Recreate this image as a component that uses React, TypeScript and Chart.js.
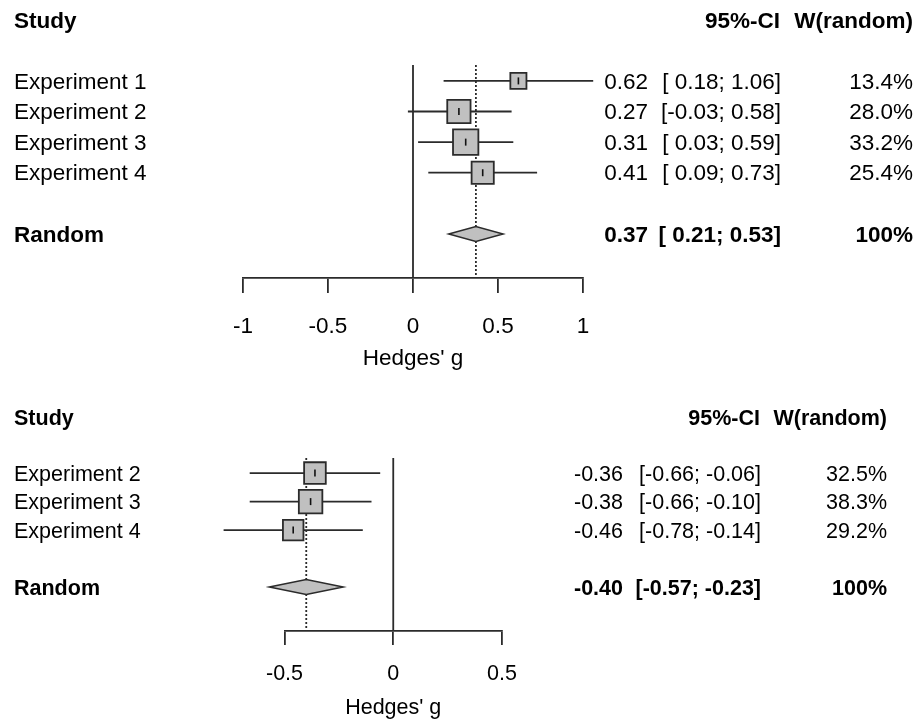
import React, { useEffect, useRef } from "react";
import { Chart, registerables } from "chart.js";

Chart.register(...registerables);

const FONT = '"Liberation Sans", Arial, Helvetica, sans-serif';

// ---------- Panel 1 data ----------
const studiesA = ["Experiment 1", "Experiment 2", "Experiment 3", "Experiment 4"];
const estA = [0.62, 0.27, 0.31, 0.41];
const lowA = [0.18, -0.03, 0.03, 0.09];
const highA = [1.06, 0.58, 0.59, 0.73];
const weightA = [13.4, 28.0, 33.2, 25.4];
const pooledA = [0.37, 0.21, 0.53]; // estimate, lower, upper
const ticksA = [-1, -0.5, 0, 0.5, 1];

// ---------- Panel 2 data ----------
const studiesB = ["Experiment 2", "Experiment 3", "Experiment 4"];
const estB = [-0.36, -0.38, -0.46];
const lowB = [-0.66, -0.66, -0.78];
const highB = [-0.06, -0.1, -0.14];
const weightB = [32.5, 38.3, 29.2];
const pooledB = [-0.4, -0.57, -0.23];
const ticksB = [-0.5, 0, 0.5];

const headers = ["Study", "95%-CI", "W(random)"];
const pooledLabel = "Random";
const axisTitle = "Hedges' g";

type Panel = {
  id: string;
  studies: string[];
  est: number[];
  low: number[];
  high: number[];
  weight: number[];
  pooled: number[];
  ticks: number[];
  // style / layout
  width: number;
  height: number;
  xMin: number;
  xMax: number;
  yMin: number;
  yMax: number;
  padding: { left: number; right: number; top: number; bottom: number };
  axisHeight: number;
  tickLength: number;
  tickPadding: number;
  fontSize: number;
  boxK: number;
  labelX: number;
  estRight: number;
  ciRight: number;
  wRight: number;
  headCiRight: number;
  textDy: number;
  headDy: number;
};

const panelA: Panel = {
  id: "a",
  studies: studiesA,
  est: estA,
  low: lowA,
  high: highA,
  weight: weightA,
  pooled: pooledA,
  ticks: ticksA,
  width: 919,
  height: 385,
  xMin: -1,
  xMax: 1,
  yMin: 1.48,
  yMax: 8.44,
  padding: { left: 243, right: 336, top: 65, bottom: 13 },
  axisHeight: 94,
  tickLength: 15,
  tickPadding: 20,
  fontSize: 22.5,
  boxK: 4.4,
  labelX: 14,
  estRight: 648,
  ciRight: 781,
  wRight: 913,
  headCiRight: 780,
  textDy: 1.5,
  headDy: 2,
};

const panelB: Panel = {
  id: "b",
  studies: studiesB,
  est: estB,
  low: lowB,
  high: highB,
  weight: weightB,
  pooled: pooledB,
  ticks: ticksB,
  width: 919,
  height: 336,
  xMin: -0.5,
  xMax: 0.5,
  yMin: 1.47,
  yMax: 7.54,
  padding: { left: 284.5, right: 417, top: 73, bottom: 0 },
  axisHeight: 90,
  tickLength: 14,
  tickPadding: 16,
  fontSize: 21.5,
  boxK: 3.8,
  labelX: 14,
  estRight: 623,
  ciRight: 761,
  wRight: 887,
  headCiRight: 760,
  textDy: 1.5,
  headDy: 3,
};

const LINE = "#2b2b2b";
const FILL = "#c0c0c0";
const LW = 1.8;

function fmt(v: number) {
  return v.toFixed(2);
}

function ciLabels(low: number[], high: number[], pl: number, ph: number) {
  const lows = [...low, pl].map(fmt);
  const highs = [...high, ph].map(fmt);
  const wl = Math.max(...lows.map((s) => s.length));
  const wh = Math.max(...highs.map((s) => s.length));
  return lows.map((l, i) => `[${l.padStart(wl)}; ${highs[i].padStart(wh)}]`);
}

function makePlugin(p: Panel) {
  const n = p.est.length;
  const rows = p.est.map((_, i) => i + 2);
  const pooledRow = n + 3;
  const cis = ciLabels(p.low, p.high, p.pooled[1], p.pooled[2]);
  return {
    id: "forest_" + p.id,
    afterDatasetsDraw(chart: any) {
      const { x, y } = chart.scales;
      const ctx: CanvasRenderingContext2D = chart.ctx;
      const yc = y.getPixelForValue(pooledRow);
      const h = 7.5;
      ctx.save();
      ctx.beginPath();
      ctx.moveTo(x.getPixelForValue(p.pooled[1]), yc);
      ctx.lineTo(x.getPixelForValue(p.pooled[0]), yc - h);
      ctx.lineTo(x.getPixelForValue(p.pooled[2]), yc);
      ctx.lineTo(x.getPixelForValue(p.pooled[0]), yc + h);
      ctx.closePath();
      ctx.fillStyle = FILL;
      ctx.fill();
      ctx.strokeStyle = LINE;
      ctx.lineWidth = 1.5;
      ctx.stroke();
      ctx.restore();
    },
    afterDraw(chart: any) {
      const { y } = chart.scales;
      const ctx: CanvasRenderingContext2D = chart.ctx;
      const fs = p.fontSize;
      const txt = (s: string, xx: number, row: number, align: CanvasTextAlign, bold: boolean, dy: number) => {
        ctx.font = `${bold ? "bold " : ""}${fs}px ${FONT}`;
        ctx.textAlign = align;
        ctx.textBaseline = "middle";
        ctx.fillStyle = "#000";
        ctx.fillText(s, xx, y.getPixelForValue(row) + dy);
      };
      ctx.save();
      txt(headers[0], p.labelX, 0, "left", true, p.headDy);
      txt(headers[1], p.headCiRight, 0, "right", true, p.headDy);
      txt(headers[2], p.wRight, 0, "right", true, p.headDy);
      p.studies.forEach((s, i) => {
        txt(s, p.labelX, rows[i], "left", false, p.textDy);
        txt(fmt(p.est[i]), p.estRight, rows[i], "right", false, p.textDy);
        txt(cis[i], p.ciRight, rows[i], "right", false, p.textDy);
        txt(`${p.weight[i].toFixed(1)}%`, p.wRight, rows[i], "right", false, p.textDy);
      });
      txt(pooledLabel, p.labelX, pooledRow, "left", true, p.textDy);
      txt(fmt(p.pooled[0]), p.estRight, pooledRow, "right", true, p.textDy);
      txt(cis[n], p.ciRight, pooledRow, "right", true, p.textDy);
      txt("100%", p.wRight, pooledRow, "right", true, p.textDy);
      ctx.restore();
    },
  };
}

function makeConfig(p: Panel): any {
  const rows = p.est.map((_, i) => i + 2);
  const pts = p.est.map((x, i) => ({ x, y: rows[i] }));
  const datasets: any[] = [];
  datasets.push({
    label: "centre",
    data: pts,
    showLine: false,
    pointStyle: "line",
    pointRotation: 90,
    pointRadius: 3.5,
    pointBorderColor: "#111",
    pointBorderWidth: 1.6,
    order: 0,
    clip: false,
  });
  datasets.push({
    label: "boxes",
    data: pts,
    showLine: false,
    pointStyle: "rect",
    pointRadius: p.weight.map((w) => (p.boxK * Math.sqrt(w)) / Math.SQRT2),
    pointBackgroundColor: FILL,
    pointBorderColor: LINE,
    pointBorderWidth: LW,
    order: 1,
    clip: false,
  });
  p.est.forEach((_, i) => {
    datasets.push({
      label: "ci" + i,
      data: [
        { x: p.low[i], y: rows[i] },
        { x: p.high[i], y: rows[i] },
      ],
      showLine: true,
      pointRadius: 0,
      borderColor: LINE,
      borderWidth: LW,
      order: 2,
      clip: false,
    });
  });
  datasets.push({
    label: "pooled line",
    data: [
      { x: p.pooled[0], y: p.yMin },
      { x: p.pooled[0], y: p.yMax },
    ],
    showLine: true,
    pointRadius: 0,
    borderColor: LINE,
    borderWidth: LW,
    borderDash: [2, 2],
    order: 3,
    clip: false,
  });
  datasets.push({
    label: "null line",
    data: [
      { x: 0, y: p.yMin },
      { x: 0, y: p.yMax },
    ],
    showLine: true,
    pointRadius: 0,
    borderColor: LINE,
    borderWidth: LW,
    order: 4,
    clip: false,
  });

  return {
    type: "scatter",
    data: { datasets },
    options: {
      animation: false,
      responsive: false,
      events: [],
      layout: { padding: p.padding },
      plugins: { legend: { display: false }, tooltip: { enabled: false }, title: { display: false } },
      scales: {
        x: {
          type: "linear",
          min: p.xMin,
          max: p.xMax,
          afterBuildTicks: (s: any) => {
            s.ticks = p.ticks.map((v) => ({ value: v }));
          },
          afterFit: (s: any) => {
            s.height = p.axisHeight;
          },
          grid: {
            display: true,
            drawOnChartArea: false,
            drawTicks: true,
            tickLength: p.tickLength,
            color: LINE,
            lineWidth: LW,
          },
          border: { display: true, color: LINE, width: LW },
          ticks: {
            padding: p.tickPadding,
            color: "#000",
            font: { family: FONT, size: p.fontSize },
            maxRotation: 0,
            autoSkip: false,
            callback: (v: any) => String(v),
          },
          title: {
            display: true,
            text: axisTitle,
            color: "#000",
            font: { family: FONT, size: p.fontSize },
            padding: 0,
          },
        },
        y: {
          type: "linear",
          display: false,
          min: p.yMin,
          max: p.yMax,
          reverse: true,
        },
      },
    },
    plugins: [makePlugin(p)],
  };
}

function ForestCanvas({ panel }: { panel: Panel }) {
  const ref = useRef<HTMLCanvasElement>(null);
  useEffect(() => {
    if (!ref.current) return;
    const chart = new Chart(ref.current, makeConfig(panel));
    return () => chart.destroy();
  }, [panel]);
  return (
    <canvas
      ref={ref}
      width={panel.width}
      height={panel.height}
      style={{ display: "block", width: panel.width, height: panel.height }}
    />
  );
}

export default function App() {
  return (
    <div
      style={{
        position: "absolute",
        left: 0,
        top: 0,
        width: 919,
        height: 721,
        background: "#fff",
        overflow: "hidden",
      }}
    >
      <ForestCanvas panel={panelA} />
      <ForestCanvas panel={panelB} />
    </div>
  );
}
